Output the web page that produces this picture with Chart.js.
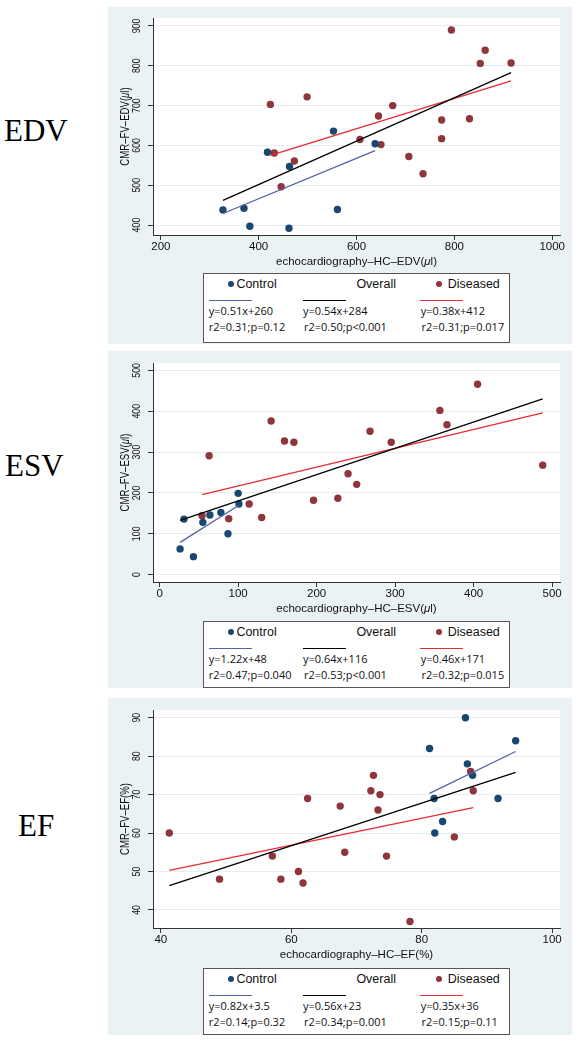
<!DOCTYPE html>
<html>
<head>
<meta charset="utf-8">
<script src="https://cdn.jsdelivr.net/npm/chart.js@4.4.0/dist/chart.umd.min.js"></script>
<style>
  body { margin: 0; width: 580px; height: 1049px; background: #fff; position: relative; overflow: hidden;
         font-family: "Liberation Sans", Arial, sans-serif; }
  .side { position: absolute; font-family: "Liberation Serif", "Times New Roman", serif; font-size: 31px;
          color: #000; line-height: 1; transform: translateY(-50%); }
  .panel { position: absolute; left: 108px; width: 464px; height: 337px; background: #eaf2f3; }
  .cw { position: absolute; left: 0; top: 0; width: 464px; height: 337px; }
  .legend { position: absolute; left: 95px; width: 307px; background: #fff; border: 1px solid #555;
            box-sizing: border-box; }
  .legend .t { position: absolute; white-space: nowrap; line-height: 1; transform: translateY(-50%); color: #111; }
  .legend .lab { font-size: 12.5px; font-family: "Liberation Sans", Arial, sans-serif; }
  .legend .eq { font-size: 11px; font-family: "Open Sans", "DejaVu Sans", sans-serif; }
  .legend .dot { position: absolute; width: 6px; height: 6px; border-radius: 50%; transform: translate(-50%, -50%); }
  .legend .ln { position: absolute; height: 1.3px; }
</style>
</head>
<body>
<div class="side" style="left:4px; top:130px;">EDV</div>
<div class="side" style="left:5px; top:465px;">ESV</div>
<div class="side" style="left:18px; top:825px;">EF</div>

<div class="panel" id="p1" style="top:7px;"><div class="cw"><canvas id="edvChart"></canvas></div></div>
<div class="panel" id="p2" style="top:351px;"><div class="cw"><canvas id="esvChart"></canvas></div></div>
<div class="panel" id="p3" style="top:698px;"><div class="cw"><canvas id="efChart"></canvas></div></div>

<script>
// --- colours ---
const NAVY = '#1a476f';
const MAROON = '#90353b';
const FIT_BLUE = '#5560a8';
const FIT_RED = '#e62a30';
const FIT_ALL = '#000000';

// --- EDV data ---
const edvCtlX = [327, 370, 382, 418, 463, 462, 553, 561, 638];
const edvCtlY = [438, 442, 397, 583, 547, 392, 636, 439, 604];
const edvDisX = [424, 432, 446, 473, 499, 607, 645, 650, 674, 707, 736, 774, 774, 794, 831, 853, 863, 916];
const edvDisY = [703, 581, 496, 561, 722, 615, 674, 602, 700, 572, 529, 664, 617, 890, 667, 806, 839, 807];
const edvFitCtlX = [327, 638], edvFitCtlY = [429, 587];
const edvFitAllX = [327, 916], edvFitAllY = [462, 783];
const edvFitDisX = [424, 916], edvFitDisY = [575, 762];
const edvXTicks = [200, 400, 600, 800, 1000];
const edvYTicks = [400, 500, 600, 700, 800, 900];
const edvEq = ['y=0.51x+260', 'y=0.54x+284', 'y=0.38x+412'];
const edvStat = ['r2=0.31;p=0.12', 'r2=0.50;p<0.001', 'r2=0.31;p=0.017'];

// --- ESV data ---
const esvCtlX = [26, 31, 43, 55, 64, 78, 87, 100, 101];
const esvCtlY = [63, 136, 44, 128, 146, 152, 100, 199, 173];
const esvDisX = [54, 63, 88, 114, 130, 142, 159, 171, 196, 227, 240, 251, 268, 295, 357, 366, 405, 488];
const esvDisY = [144, 291, 137, 173, 140, 376, 327, 324, 182, 187, 247, 221, 351, 324, 402, 367, 466, 268];
const esvFitCtlX = [26, 101], esvFitCtlY = [79, 170];
const esvFitAllX = [26, 488], esvFitAllY = [133, 430];
const esvFitDisX = [54, 488], esvFitDisY = [196, 396];
const esvXTicks = [0, 100, 200, 300, 400, 500];
const esvYTicks = [0, 100, 200, 300, 400, 500];
const esvEq = ['y=1.22x+48', 'y=0.64x+116', 'y=0.46x+171'];
const esvStat = ['r2=0.47;p=0.040', 'r2=0.53;p<0.001', 'r2=0.32;p=0.015'];

// --- EF data ---
const efCtlX = [86.7, 81.2, 94.4, 87.0, 87.8, 81.9, 91.7, 83.2, 82.0];
const efCtlY = [90, 82, 84, 78, 75, 69, 69, 63, 60];
const efDisX = [41.3, 49.0, 57.1, 58.4, 61.1, 61.8, 62.5, 67.5, 68.2, 72.2, 72.6, 73.3, 73.6, 74.6, 78.2, 85.0, 87.5, 87.9];
const efDisY = [60, 48, 54, 48, 50, 47, 69, 67, 55, 71, 75, 66, 70, 54, 37, 59, 76, 71];
const efFitCtlX = [81.2, 94.4], efFitCtlY = [70.3, 81.2];
const efFitAllX = [41.3, 94.4], efFitAllY = [46.3, 75.8];
const efFitDisX = [41.3, 87.9], efFitDisY = [50.3, 66.6];
const efXTicks = [40, 60, 80, 100];
const efYTicks = [40, 50, 60, 70, 80, 90];
const efEq = ['y=0.82x+3.5', 'y=0.56x+23', 'y=0.35x+36'];
const efStat = ['r2=0.14;p=0.32', 'r2=0.34;p=0.001', 'r2=0.15;p=0.11'];

const TEXT_FONT = '"Liberation Sans", Arial, sans-serif';

function pts(xs, ys) {
    return xs.map((x, i) => ({ x: x, y: ys[i] }));
}

// draw a centred label, μ in italics, optionally rotated / squashed along its length
function drawRich(ctx, text, cx, cy, rot, squash, size) {
    const parts = text.split(/(μ)/).filter(Boolean);
    const fonts = parts.map(p => (p === 'μ' ? 'italic ' : '') + size + 'px ' + TEXT_FONT);
    const widths = parts.map((p, k) => { ctx.font = fonts[k]; return ctx.measureText(p).width; });
    const total = widths.reduce((a, b) => a + b, 0);
    ctx.save();
    ctx.translate(cx, cy);
    ctx.rotate(rot);
    ctx.scale(squash, 1);
    ctx.textAlign = 'left';
    ctx.textBaseline = 'middle';
    let px = -total / 2;
    parts.forEach((p, k) => { ctx.font = fonts[k]; ctx.fillText(p, px, 0); px += widths[k]; });
    ctx.restore();
}

// Stata-like axis text + white plot region
const stataText = {
    id: 'stataText',
    beforeDraw(chart) {
        const { ctx, chartArea: a } = chart;
        ctx.save();
        ctx.fillStyle = '#fff';
        ctx.fillRect(a.left, a.top, a.right - a.left, a.bottom - a.top);
        ctx.restore();
    },
    afterDraw(chart, args, opts) {
        const { ctx, chartArea: a } = chart;
        const xs = chart.scales.x, ys = chart.scales.y;
        ctx.save();
        ctx.fillStyle = '#111';
        xs.ticks.forEach(t => drawRich(ctx, String(t.value), xs.getPixelForValue(t.value), a.bottom + 12, 0, 1, 11.5));
        ys.ticks.forEach(t => drawRich(ctx, String(t.value), a.left - 16, ys.getPixelForValue(t.value), -Math.PI / 2, opts.squash, 11));
        drawRich(ctx, opts.xTitle, (a.left + a.right) / 2, a.bottom + 26.5, 0, 1, 11.5);
        drawRich(ctx, opts.yTitle, a.left - 27, (a.top + a.bottom) / 2, -Math.PI / 2, opts.squash, 12);
        ctx.restore();
    }
};

function buildLegend(panelId, top, height, eq, stat) {
    const box = document.createElement('div');
    box.className = 'legend';
    box.style.top = top + 'px';
    box.style.height = height + 'px';
    let html = '';
    html += `<span class="dot" style="left:26.7px; top:10px; background:${NAVY}"></span>`;
    html += `<span class="t lab" style="left:32.4px; top:10px;">Control</span>`;
    html += `<span class="t lab" style="left:152.4px; top:10px;">Overall</span>`;
    html += `<span class="dot" style="left:234.7px; top:10px; background:${MAROON}"></span>`;
    html += `<span class="t lab" style="left:243.7px; top:10px;">Diseased</span>`;
    html += `<span class="ln" style="left:4.7px; top:25.5px; width:43.7px; background:${FIT_BLUE}"></span>`;
    html += `<span class="ln" style="left:99px; top:25.5px; width:43.4px; background:${FIT_ALL}"></span>`;
    html += `<span class="ln" style="left:215.7px; top:25.5px; width:43.3px; background:${FIT_RED}"></span>`;
    const eqLeft = [4.7, 99, 216.7];
    const statLeft = [4.7, 100, 217.4];
    eq.forEach((s, i) => { html += `<span class="t eq" style="left:${eqLeft[i]}px; top:36px;">${s}</span>`; });
    stat.forEach((s, i) => {
        const safe = s.replace('<', '&lt;');
        html += `<span class="t eq" style="left:${statLeft[i]}px; top:52px;">${safe}</span>`;
    });
    box.innerHTML = html;
    document.getElementById(panelId).appendChild(box);
}

function makeChart(canvasId, cfg) {
    const ctx = document.getElementById(canvasId).getContext('2d');
    const scatter = (data, color) => ({
        type: 'scatter', data: data, order: 2,
        backgroundColor: color, borderColor: color, pointRadius: 3.7, pointBorderWidth: 0
    });
    const fit = (data, color) => ({
        type: 'line', data: data, order: 1,
        borderColor: color, borderWidth: 1.3, pointRadius: 0, fill: false, tension: 0
    });
    return new Chart(ctx, {
        type: 'scatter',
        data: {
            datasets: [
                scatter(cfg.ctl, NAVY),
                scatter(cfg.dis, MAROON),
                fit(cfg.fitCtl, FIT_BLUE),
                fit(cfg.fitAll, FIT_ALL),
                fit(cfg.fitDis, FIT_RED)
            ]
        },
        options: {
            responsive: true,
            maintainAspectRatio: false,
            animation: false,
            devicePixelRatio: 1,
            layout: { padding: { left: 0, right: 12, top: cfg.plotTop, bottom: 0 } },
            plugins: {
                legend: { display: false },
                tooltip: { enabled: false },
                stataText: { xTitle: cfg.xTitle, yTitle: cfg.yTitle, squash: 0.8 }
            },
            scales: {
                x: {
                    type: 'linear', min: cfg.xMin, max: cfg.xMax,
                    afterBuildTicks: s => { s.ticks = cfg.xTicks.map(v => ({ value: v })); },
                    afterFit: s => { s.height = 337 - cfg.plotBottom; },
                    ticks: { display: false },
                    grid: { display: true, drawOnChartArea: false, drawTicks: true, tickLength: 5, tickColor: '#333' },
                    border: { display: true, color: '#333', width: 1 }
                },
                y: {
                    type: 'linear', min: cfg.yMin, max: cfg.yMax,
                    afterBuildTicks: s => { s.ticks = cfg.yTicks.map(v => ({ value: v })); },
                    afterFit: s => { s.width = 45; },
                    ticks: { display: false },
                    grid: { display: true, drawOnChartArea: true, color: '#e4edf0', lineWidth: 1,
                            drawTicks: true, tickLength: 5, tickColor: '#333' },
                    border: { display: true, color: '#333', width: 1 }
                }
            }
        },
        plugins: [stataText]
    });
}

makeChart('edvChart', {
    ctl: pts(edvCtlX, edvCtlY), dis: pts(edvDisX, edvDisY),
    fitCtl: pts(edvFitCtlX, edvFitCtlY), fitAll: pts(edvFitAllX, edvFitAllY), fitDis: pts(edvFitDisX, edvFitDisY),
    xMin: 184, xMax: 1016, yMin: 375, yMax: 920, xTicks: edvXTicks, yTicks: edvYTicks,
    plotTop: 11, plotBottom: 228,
    xTitle: 'echocardiography–HC–EDV(μl)', yTitle: 'CMR–FV–EDV(μl)'
});
makeChart('esvChart', {
    ctl: pts(esvCtlX, esvCtlY), dis: pts(esvDisX, esvDisY),
    fitCtl: pts(esvFitCtlX, esvFitCtlY), fitAll: pts(esvFitAllX, esvFitAllY), fitDis: pts(esvFitDisX, esvFitDisY),
    xMin: -8.5, xMax: 510, yMin: -18, yMax: 518, xTicks: esvXTicks, yTicks: esvYTicks,
    plotTop: 12, plotBottom: 231,
    xTitle: 'echocardiography–HC–ESV(μl)', yTitle: 'CMR–FV–ESV(μl)'
});
makeChart('efChart', {
    ctl: pts(efCtlX, efCtlY), dis: pts(efDisX, efDisY),
    fitCtl: pts(efFitCtlX, efFitCtlY), fitAll: pts(efFitAllX, efFitAllY), fitDis: pts(efFitDisX, efFitDisY),
    xMin: 38.8, xMax: 101.2, yMin: 35.3, yMax: 92, xTicks: efXTicks, yTicks: efYTicks,
    plotTop: 12, plotBottom: 230,
    xTitle: 'echocardiography–HC–EF(%)', yTitle: 'CMR–FV–EF(%)'
});

buildLegend('p1', 266, 70, edvEq, edvStat);
buildLegend('p2', 270, 67, esvEq, esvStat);
buildLegend('p3', 270, 67, efEq, efStat);
</script>
</body>
</html>
